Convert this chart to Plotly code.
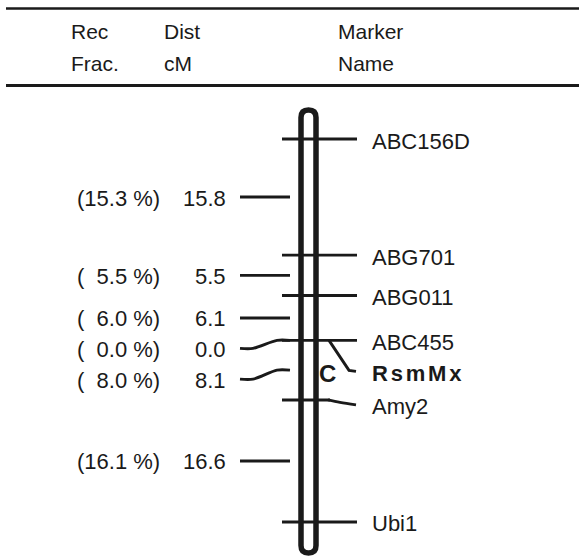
import numpy as np
import plotly.graph_objects as go

# ---------------- data ----------------
markers = ["ABC156D", "ABG701", "ABG011", "ABC455", "RsmMx", "Amy2", "Ubi1"]
interval_cM = [15.8, 5.5, 6.1, 0.0, 8.1, 16.6]          # Dist cM between adjacent markers
rec_frac_pct = [15.3, 5.5, 6.0, 0.0, 8.0, 16.1]         # Rec. fraction (%)
header_cols = [["Rec", "Frac."], ["Dist", "cM"], ["Marker", "Name"]]
centromere_label = "C"
bold_markers = ["RsmMx"]

# ---------------- layout constants (pixels) ----------------
W, H = 579, 557
PX_PER_CM = 7.35
TOP_PX = 139
FONT = "Liberation Sans, Arial, Helvetica, sans-serif"
INK = "#1a1a1a"
FS = 22


def d(px):
    """pixel offset -> cM offset on the map axis"""
    return px / PX_PER_CM


pos = np.concatenate([[0.0], np.cumsum(interval_cM)])
mpos = dict(zip(markers, pos))
mids = (pos[:-1] + pos[1:]) / 2

# label displacements (pixels, downward) for crowded labels
marker_label_dy = {"RsmMx": 31, "Amy2": 5}
interval_label_dy = {3: 8, 4: 9}
no_own_tick = {"RsmMx"}

fig = go.Figure()

line = dict(color=INK, width=2.9)

# chromosome outline (rounded bar)
xl, xr = 301, 316
top = mpos[markers[0]] - d(29)
bot = mpos[markers[-1]] + d(31)
r = d(7.5)
xm = (xl + xr) / 2
path = (f"M {xl},{top + r} Q {xl},{top} {xm},{top} Q {xr},{top} {xr},{top + r} "
        f"L {xr},{bot - r} Q {xr},{bot} {xm},{bot} Q {xl},{bot} {xl},{bot - r} Z")
fig.add_shape(type="path", path=path, xref="x", yref="y",
              line=dict(color=INK, width=5.5), fillcolor="rgba(0,0,0,0)")

# right-hand marker ticks
tx, ty = [], []
for m in markers:
    y = mpos[m]
    if m in no_own_tick:
        continue
    if m in marker_label_dy:
        tx += [282, 330, None]
        ty += [y, y, None]
    else:
        tx += [282, 357, None]
        ty += [y, y, None]
fig.add_trace(go.Scatter(x=tx, y=ty, mode="lines", line=line, hoverinfo="skip"))

# connectors for displaced marker labels
for m, dy in marker_label_dy.items():
    y = mpos[m]
    if m == "RsmMx":
        cx = [329, 349, 356]
        cy = [y, y + d(dy - 1), y + d(dy)]
        fig.add_trace(go.Scatter(x=cx, y=cy, mode="lines", line=line, hoverinfo="skip"))
    else:
        cx = [328, 340, 356]
        cy = [y, y + d(dy * 0.5), y + d(dy)]
        fig.add_trace(go.Scatter(x=cx, y=cy, mode="lines", line=dict(line, shape="spline"),
                                 hoverinfo="skip"))

# left-hand interval ticks
lx, ly = [], []
for i, mid in enumerate(mids):
    if i in interval_label_dy:
        dy = interval_label_dy[i]
        fig.add_trace(go.Scatter(x=[240, 253, 277, 290],
                                 y=[mid + d(dy), mid + d(dy), mid, mid],
                                 mode="lines", line=dict(line, shape="spline", smoothing=0.8),
                                 hoverinfo="skip"))
    else:
        lx += [240, 290, None]
        ly += [mid, mid, None]
fig.add_trace(go.Scatter(x=lx, y=ly, mode="lines", line=line, hoverinfo="skip"))

ann = []
# marker name labels
for m in markers:
    y = mpos[m]
    dy = marker_label_dy.get(m, 0) + 2
    if m in bold_markers:
        txt = "<b>" + '<span style="font-size:10px"> </span>'.join(m) + "</b>"
    else:
        txt = m
    ann.append(dict(x=370, y=y, yshift=-dy, text=txt, xanchor="left", yanchor="middle",
                    showarrow=False, font=dict(family=FONT, size=FS, color=INK)))

# interval labels
for i, mid in enumerate(mids):
    dy = interval_label_dy.get(i, 0) + 1
    rf = rec_frac_pct[i]
    rtxt = f"({rf:.1f} %)" if rf >= 10 else f"(\u2007{rf:.1f} %)"
    ann.append(dict(x=75, y=mid, yshift=-dy, text=rtxt, xanchor="left", yanchor="middle",
                    showarrow=False, font=dict(family=FONT, size=FS, color=INK)))
    ann.append(dict(x=228, y=mid, yshift=-dy, text=f"{interval_cM[i]:.1f}", xanchor="right",
                    yanchor="middle", showarrow=False, font=dict(family=FONT, size=FS, color=INK)))

# centromere letter
ann.append(dict(x=327.5, y=mpos["RsmMx"], yshift=-33, text=f"<b>{centromere_label}</b>",
                xanchor="center", yanchor="middle", showarrow=False,
                font=dict(family=FONT, size=24, color=INK)))

# header
hx = [69, 162, 336]
for x0, (l1, l2) in zip(hx, header_cols):
    for txt, ypx in ((l1, 32), (l2, 63)):
        ann.append(dict(x=x0, y=1 - ypx / H, yref="paper", text=txt, xanchor="left",
                        yanchor="middle", showarrow=False,
                        font=dict(family=FONT, size=21, color=INK)))

fig.add_shape(type="line", xref="x", yref="paper", x0=6, x1=579, y0=1 - 8.5 / H, y1=1 - 8.5 / H,
              line=dict(color=INK, width=2.5))
fig.add_shape(type="line", xref="x", yref="paper", x0=6, x1=579, y0=1 - 85.5 / H, y1=1 - 85.5 / H,
              line=dict(color=INK, width=3))

fig.update_layout(
    width=W, height=H, margin=dict(l=0, r=0, t=0, b=0),
    paper_bgcolor="white", plot_bgcolor="white", showlegend=False,
    annotations=ann,
    xaxis=dict(range=[0, W], visible=False, fixedrange=True),
    yaxis=dict(range=[(H - TOP_PX) / PX_PER_CM, -TOP_PX / PX_PER_CM], visible=False, fixedrange=True),
)

fig.write_html("out.html", config={"displayModeBar": False},
               post_script="document.body.style.margin='0px';document.body.style.overflow='hidden';")
